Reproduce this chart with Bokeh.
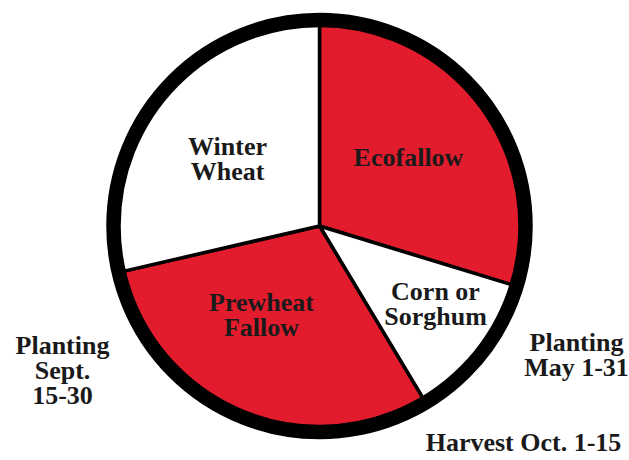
import math
from bokeh.plotting import figure
from bokeh.models import Range1d, ColumnDataSource
from bokeh.core.properties import value
from bokeh.embed import file_html
from bokeh.resources import INLINE

# ---- data (degrees of the 360° rotation wheel, clockwise from 12 o'clock) ----
phases = ["Ecofallow", "Corn or Sorghum", "Prewheat Fallow", "Winter Wheat"]
spans = [107, 42, 108, 103]
fills = ["#e31c2d", "#ffffff", "#e31c2d", "#ffffff"]

slice_lines = [["Ecofallow"], ["Corn or", "Sorghum"], ["Prewheat", "Fallow"], ["Winter", "Wheat"]]
outer_labels = [["Planting", "Sept.", "15-30"], ["Planting", "May 1-31"], ["Harvest Oct. 1-15"]]

# ---- layout (pixel units, pie centre at origin) ----
R = 206
RING_W = 14.5
slice_label_pos = [(89, 69), (116, -65), (-58, -76), (-92, 80)]
outer_label_pos = [(-257, -119), (257, -116), (204, -216)]
LINE_H = 25
FONT = "Liberation Serif"
FS = "26px"

W, H = 629, 460
p = figure(width=W, height=H, output_backend="svg", toolbar_location=None,
           x_range=Range1d(-319, 310), y_range=Range1d(-234.5, 225.5),
           min_border=0)
p.axis.visible = False
p.grid.visible = False
p.outline_line_color = None
p.background_fill_color = "white"
p.border_fill_color = "white"

total = sum(spans)
starts, ends, acc = [], [], 0.0
for s in spans:
    a0 = math.pi / 2 - 2 * math.pi * acc / total
    acc += s
    a1 = math.pi / 2 - 2 * math.pi * acc / total
    starts.append(a0)
    ends.append(a1)

src = ColumnDataSource(dict(x=[0] * len(spans), y=[0] * len(spans),
                            start=starts, end=ends, fill=fills, name=phases))
p.wedge(x="x", y="y", radius=R, start_angle="start", end_angle="end",
        direction="clock", fill_color="fill", line_color="black",
        line_width=3.5, source=src)
p.circle(x=[0], y=[0], radius=R, fill_color=None, line_color="black",
         line_width=RING_W)

tx, ty, tt = [], [], []
for lines, (cx, cy) in zip(slice_lines + outer_labels, slice_label_pos + outer_label_pos):
    for i, ln in enumerate(lines):
        tx.append(cx)
        ty.append(cy - i * LINE_H)
        tt.append(ln)

p.text(x=tx, y=ty, text=tt, text_font=value(FONT), text_font_style="bold",
       text_font_size=FS, text_align="center", text_baseline="middle",
       text_color="#1a1a1a")

open("out.html", "w").write(file_html(p, INLINE))
